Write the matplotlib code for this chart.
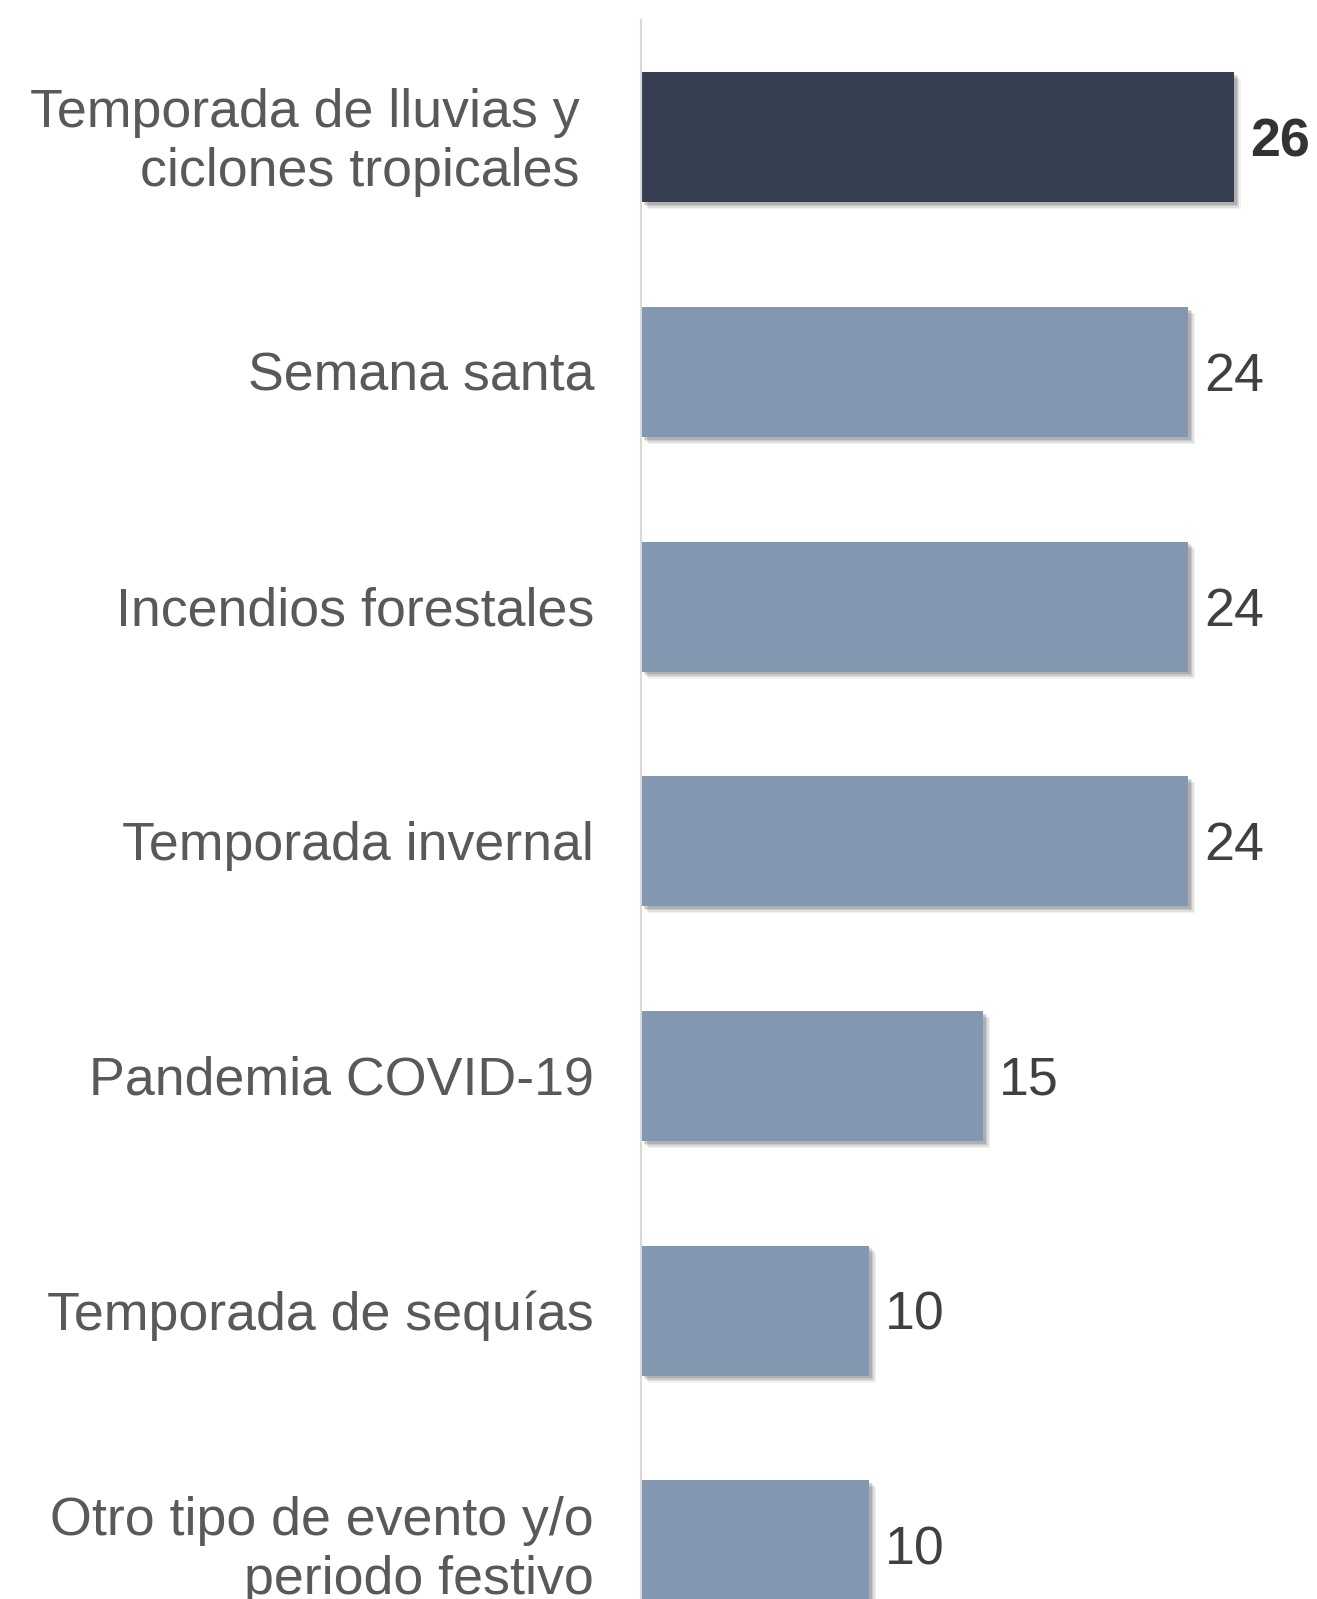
import matplotlib
matplotlib.use("Agg")
import matplotlib.pyplot as plt
import matplotlib.patheffects as pe

categories = [
    "Temporada de lluvias y \nciclones tropicales ",
    "Semana santa",
    "Incendios forestales",
    "Temporada invernal",
    "Pandemia COVID-19",
    "Temporada de sequías",
    "Otro tipo de evento y/o\nperiodo festivo",
]
values = [26, 24, 24, 24, 15, 10, 10]
highlight = [True, False, False, False, False, False, False]

W, H = 1317, 1599
fig = plt.figure(figsize=(W / 100, H / 100), dpi=100)
plt.rcParams['font.family'] = ['Liberation Sans', 'DejaVu Sans']

left_px, top_px = 641, 20
ax = fig.add_axes([left_px / W, 0, (W - left_px) / W, 1 - top_px / H])
ax.set_xlim(0, (W - left_px) / 22.8)
ax.set_ylim(6.229, -0.5)

dark = "#353F51"
light = "#8497B0"
shadow = [pe.SimplePatchShadow(offset=(o, -o), shadow_rgbFace="#000000", alpha=a)
          for o, a in [(5, 0.05), (4, 0.08), (3, 0.1), (2, 0.12)]] + [pe.Normal()]

FS = 38.7
ys = list(range(len(values)))
for y, v, h, lab in zip(ys, values, highlight, categories):
    b = ax.barh(y, v, height=0.554, color=dark if h else light, zorder=2)
    for p in b:
        p.set_path_effects(shadow)
    ax.annotate(str(v), xy=(v, y), xytext=(16, -5), textcoords="offset pixels",
                va="center", ha="left", fontsize=FS,
                fontweight="bold" if h else "normal",
                color="#404040" if not h else "#333333", annotation_clip=False)
    ax.annotate(lab, xy=(0, y), xytext=(-47, -5), textcoords="offset pixels",
                va="center", ha="right", ma="right", fontsize=FS, color="#595959",
                linespacing=1.22, annotation_clip=False)

for s in ["top", "right", "bottom"]:
    ax.spines[s].set_visible(False)
ax.spines["left"].set_color("#D9D9D9")
ax.spines["left"].set_linewidth(1.5)
ax.set_xticks([])
ax.set_yticks([])
ax.patch.set_alpha(0)

fig.savefig("out.png", dpi=100)
